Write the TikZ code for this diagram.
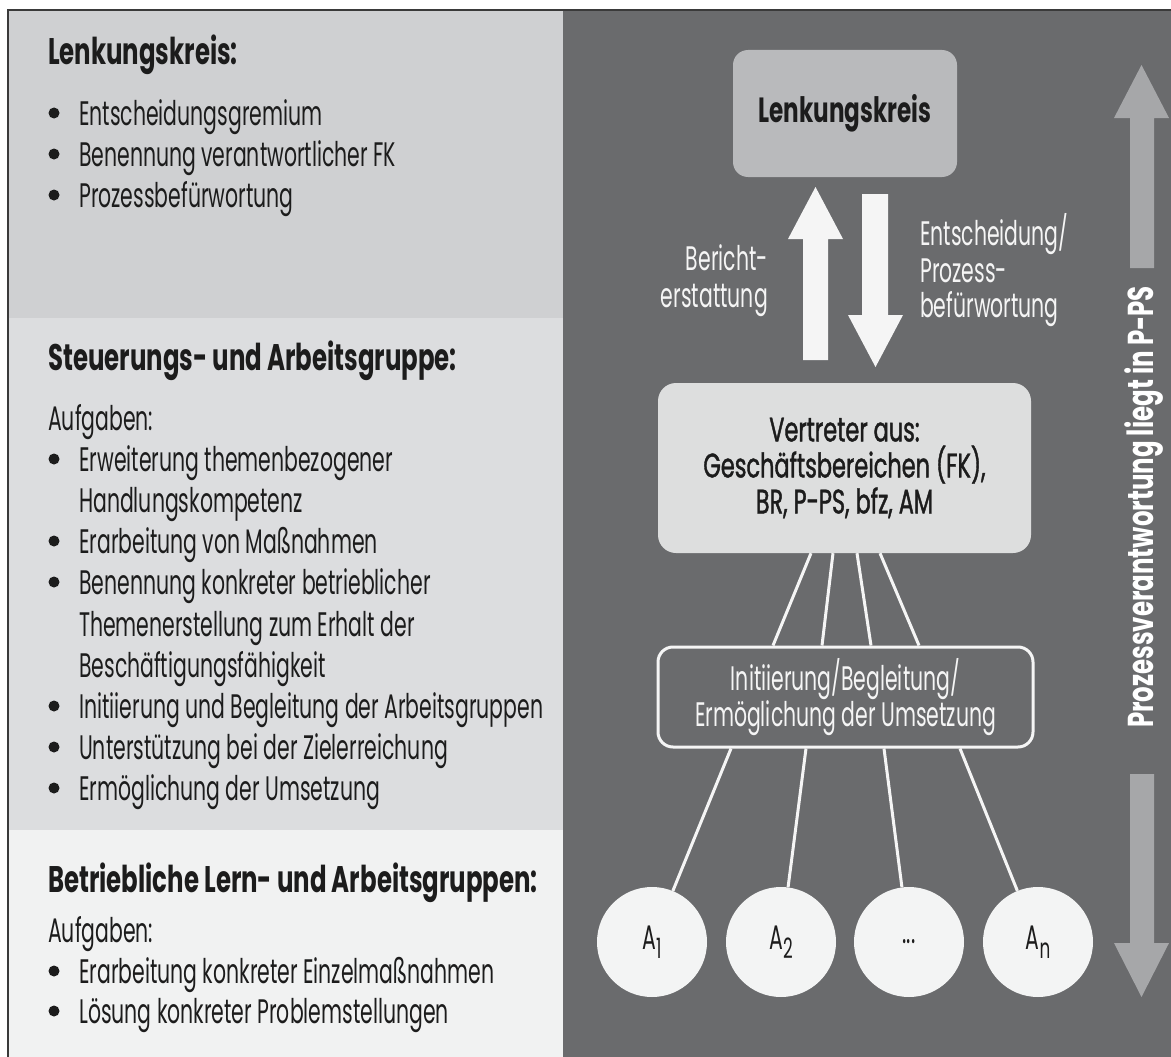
\documentclass[tikz,border=0pt]{standalone}
\usepackage{fontspec}
\setmainfont{Poppins}[FakeStretch=0.60]
\newfontfamily\headfont{Poppins}[FakeStretch=0.66]
\newfontfamily\medfont{Poppins}[FakeStretch=0.66,FakeBold=1.2]
\newfontfamily\sidefont{Poppins}[FakeStretch=0.68]
\usetikzlibrary{calc}

\definecolor{bandA}{HTML}{CFD0D2}
\definecolor{bandB}{HTML}{DCDDDF}
\definecolor{bandC}{HTML}{F1F2F2}
\definecolor{panel}{HTML}{6A6B6D}
\definecolor{boxtop}{HTML}{B9BABC}
\definecolor{boxmid}{HTML}{DDDEDE}
\definecolor{disc}{HTML}{F3F4F4}
\definecolor{bigarrow}{HTML}{A6A7A9}
\definecolor{ink}{HTML}{1C1C1C}
\definecolor{paper}{HTML}{F5F5F5}
\definecolor{framecol}{HTML}{3A3A3A}

\begin{document}
\begin{tikzpicture}[x=1pt,y=-1pt,
  body/.style={anchor=base west, inner sep=0pt, text=ink, font=\fontsize{34}{41}\selectfont},
  head/.style={anchor=base west, inner sep=0pt, text=ink, font=\headfont\bfseries\fontsize{37}{41}\selectfont},
  wlabel/.style={inner sep=0pt, text=paper, font=\fontsize{34}{37}\selectfont},
  topbox/.style={fill=boxtop, rounded corners=15pt, minimum width=224pt, minimum height=127pt,
    text=ink, font=\headfont\bfseries\fontsize{35}{37}\selectfont},
  midbox/.style={fill=boxmid, rounded corners=18pt, minimum width=373pt, minimum height=170pt,
    text=ink, align=center, font=\medfont\fontsize{34}{36}\selectfont},
  linkbox/.style={draw=paper, line width=3pt, rounded corners=15pt, minimum width=375pt,
    minimum height=100pt, text=paper, align=center, font=\fontsize{34}{33}\selectfont},
  group/.style={circle, fill=disc, minimum size=110pt, inner sep=0pt, text=ink,
    font=\fontsize{34}{34}\selectfont},
  wline/.style={draw=paper, line width=3pt},
  bullet/.style={fill=ink}
]
\useasboundingbox (0,0) rectangle (1171,1057);
\fill[white] (0,0) rectangle (1171,1057);

% background bands and dark panel
\fill[bandA] (8,10) rectangle (563,318);
\fill[bandB] (8,318) rectangle (563,830);
\fill[bandC] (8,830) rectangle (563,1057);
\fill[panel] (563,10) rectangle (1171,1057);
\draw[framecol, line width=2pt] (8,1057) -- (8,10) -- (1171,10);

% ---- left column: Lenkungskreis
\node[head] (h1) at (48,65) {Lenkungskreis:};
\foreach \y/\t [count=\i] in {125/Entscheidungsgremium, 166/Benennung verantwortlicher FK, 207/Prozessbefürwortung}
  {\node[body] (lk\i) at (79,\y) {\t};
   \fill[bullet] (54,{\y-12}) circle (5.5);}

% ---- left column: Steuerungs- und Arbeitsgruppe
\node[head] (h2) at (48,370) {Steuerungs- und Arbeitsgruppe:};
\node[body] (sa0) at (48,430) {Aufgaben:};
\foreach \y/\b/\t [count=\i] in {
    471/1/Erweiterung themenbezogener,
    512/0/Handlungskompetenz,
    553/1/Erarbeitung von Maßnahmen,
    594/1/Benennung konkreter betrieblicher,
    636/0/Themenerstellung zum Erhalt der,
    677/0/Beschäftigungsfähigkeit,
    718/1/Initiierung und Begleitung der Arbeitsgruppen,
    759/1/Unterstützung bei der Zielerreichung,
    800/1/Ermöglichung der Umsetzung}
  {\node[body] (sa\i) at (79,\y) {\t};
   \ifnum\b=1 \fill[bullet] (54,{\y-12}) circle (5.5);\fi}

% ---- left column: Betriebliche Lern- und Arbeitsgruppen
\node[head] (h3) at (48,892) {Betriebliche Lern- und Arbeitsgruppen:};
\node[body] (bl0) at (48,942) {Aufgaben:};
\foreach \y/\t [count=\i] in {983/Erarbeitung konkreter Einzelmaßnahmen, 1023/Lösung konkreter Problemstellungen}
  {\node[body] (bl\i) at (79,\y) {\t};
   \fill[bullet] (54,{\y-12}) circle (5.5);}

% ---- right panel: structure
\node[topbox] (lenk) at (845,113.5) {Lenkungskreis};

% report up / decision down
\fill[paper] (803,360) -- (803,239) -- (788,239) -- (815.5,187) -- (843,239) -- (828,239) -- (828,360) -- cycle;
\fill[paper] (862,194) -- (888,194) -- (888,315) -- (903,315) -- (875.5,367) -- (848,315) -- (862,315) -- cycle;

\node[wlabel, anchor=base east] (ber1) at (768,270) {Bericht-};
\node[wlabel, anchor=base east] (ber2) at (768,307) {erstattung};
\node[wlabel, anchor=base west] (ent1) at (920,245) {Entscheidung/};
\node[wlabel, anchor=base west] (ent2) at (920,282) {Prozess-};
\node[wlabel, anchor=base west] (ent3) at (920,317) {befürwortung};

\node[midbox] (vert) at (844.5,468) {Vertreter aus:\\Geschäftsbereichen (FK),\\BR, P-PS, bfz, AM};
\node[linkbox] (init) at (845.5,697) {Initiierung/Begleitung/\\Ermöglichung der Umsetzung};

\draw[wline] ([xshift=-33.5pt]vert.south) -- ([xshift=-72.5pt]init.north);
\draw[wline] ([xshift=-11.5pt]vert.south) -- ([xshift=-23.5pt]init.north);
\draw[wline] ([xshift=12.5pt]vert.south) -- ([xshift=25.5pt]init.north);
\draw[wline] ([xshift=35.5pt]vert.south) -- ([xshift=73.5pt]init.north);

\node[group] (a1) at (652,942) {A\raisebox{-9pt}{\fontsize{28}{28}\selectfont 1}};
\node[group] (a2) at (781,942) {A\raisebox{-9pt}{\fontsize{28}{28}\selectfont 2}};
\node[group] (a3) at (909,942) {...};
\node[group] (an) at (1038,942) {A\raisebox{-9pt}{\fontsize{28}{28}\selectfont n}};

\draw[wline] ([xshift=-114.5pt]init.south) -- (a1);
\draw[wline] ([xshift=-39.5pt]init.south) -- (a2);
\draw[wline] ([xshift=38.5pt]init.south) -- (a3);
\draw[wline] ([xshift=114.5pt]init.south) -- (an);

% ---- process responsibility double arrow
\fill[bigarrow] (1130,268) -- (1130,118) -- (1114,118) -- (1141.5,65) -- (1169,118) -- (1154,118) -- (1154,268) -- cycle;
\fill[bigarrow] (1130,774) -- (1154,774) -- (1154,943) -- (1169,943) -- (1141.5,997) -- (1114,943) -- (1130,943) -- cycle;
\node[rotate=90, inner sep=0pt, text=white, font=\sidefont\bfseries\fontsize{36}{36}\selectfont] (pv) at (1144,507) {Prozessverantwortung liegt in P-PS};
\end{tikzpicture}
\end{document}
